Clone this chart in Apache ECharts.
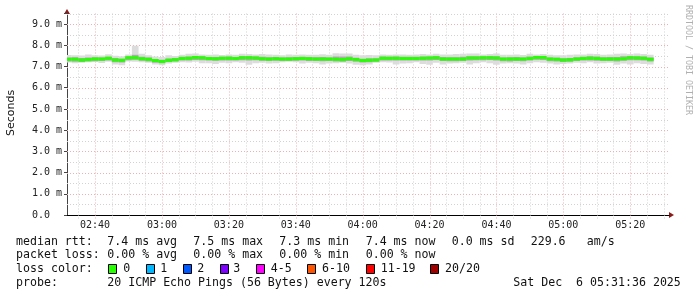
<!DOCTYPE html>
<html><head><meta charset="utf-8">
<script src="https://cdn.jsdelivr.net/npm/echarts@6/dist/echarts.min.js"></script>
<style>html,body{margin:0;padding:0;background:#fff}#c{width:697px;height:297px}</style>
</head><body><div id="c"></div>
<script>
// ---- data (minutes after midnight, values in ms) ----
const stepMinutes = 2;
const firstStepStart = 151;
const axisStart = 151.6, axisEnd = 331.6;
const yMax = 9.5;

const median = [7.34,7.34,7.31,7.33,7.36,7.36,7.39,7.31,7.30,7.41,7.41,7.37,7.34,7.28,7.24,7.30,7.32,7.38,7.39,7.42,7.41,7.38,7.37,7.39,7.39,7.38,7.41,7.41,7.40,
7.37,7.36,7.37,7.36,7.35,7.37,7.38,7.37,7.36,7.36,7.35,7.34,7.33,7.37,7.33,7.29,7.30,7.31,7.39,7.39,7.39,7.38,7.38,7.38,7.39,7.40,7.41,7.36,7.36,7.35,7.36,7.40,
7.40,7.41,7.41,7.40,7.35,7.35,7.36,7.36,7.38,7.42,7.42,7.35,7.34,7.31,7.32,7.36,7.38,7.39,7.38,7.36,7.36,7.35,7.37,7.41,7.40,7.39,7.34];

const smokeHi = [7.54,7.53,7.52,7.57,7.53,7.52,7.58,7.51,7.49,7.57,7.98,7.60,7.53,7.47,7.45,7.53,7.50,7.55,7.60,7.62,7.57,7.55,7.57,7.54,7.57,7.56,7.60,7.59,7.57,
7.59,7.57,7.55,7.53,7.57,7.55,7.57,7.55,7.56,7.58,7.56,7.63,7.62,7.61,7.55,7.53,7.54,7.53,7.57,7.55,7.57,7.57,7.56,7.57,7.59,7.57,7.60,7.57,7.57,7.59,7.60,7.62,
7.61,7.57,7.59,7.62,7.55,7.56,7.57,7.54,7.60,7.57,7.59,7.56,7.53,7.53,7.55,7.57,7.57,7.60,7.59,7.55,7.57,7.60,7.62,7.59,7.61,7.59,7.55];

const smokeLo = [7.19,7.16,7.18,7.20,7.21,7.17,7.22,7.10,7.06,7.24,7.22,7.20,7.18,7.10,7.06,7.14,7.18,7.20,7.19,7.22,7.16,7.16,7.12,7.18,7.16,7.20,7.18,7.08,7.16,
7.18,7.14,7.16,7.20,7.22,7.20,7.14,7.18,7.16,7.10,7.14,7.16,7.18,7.14,7.08,7.06,7.10,7.18,7.20,7.19,7.10,7.14,7.16,7.20,7.12,7.08,7.18,7.10,7.14,7.16,7.18,7.10,
7.16,7.20,7.16,7.08,7.14,7.16,7.14,7.10,7.16,7.20,7.18,7.14,7.10,7.12,7.14,7.18,7.16,7.20,7.14,7.16,7.18,7.08,7.14,7.10,7.16,7.12,7.10];

const innerLo = [7.24,7.22,7.21,7.24,7.25,7.26,7.28,7.20,7.19,7.30,7.32,7.27,7.24,7.18,7.15,7.21,7.24,7.28,7.28,7.31,7.30,7.28,7.27,7.28,7.29,7.28,7.30,7.29,7.30,
7.27,7.26,7.27,7.26,7.26,7.27,7.28,7.26,7.26,7.25,7.26,7.24,7.23,7.26,7.22,7.19,7.20,7.22,7.29,7.28,7.28,7.28,7.28,7.28,7.29,7.29,7.31,7.26,7.25,7.25,7.26,7.29,
7.30,7.30,7.31,7.29,7.25,7.24,7.26,7.25,7.28,7.32,7.31,7.25,7.24,7.21,7.22,7.26,7.28,7.29,7.27,7.26,7.26,7.24,7.27,7.30,7.30,7.29,7.24];

const innerHi = [7.42,7.44,7.40,7.42,7.44,7.43,7.46,7.40,7.37,7.47,7.56,7.46,7.42,7.36,7.32,7.38,7.40,7.46,7.47,7.50,7.47,7.45,7.45,7.46,7.47,7.45,7.48,7.48,7.47,
7.46,7.44,7.45,7.43,7.44,7.45,7.46,7.45,7.44,7.45,7.43,7.47,7.47,7.47,7.41,7.37,7.39,7.39,7.47,7.46,7.47,7.46,7.46,7.46,7.47,7.47,7.49,7.45,7.44,7.44,7.46,7.49,
7.48,7.47,7.48,7.48,7.43,7.44,7.45,7.43,7.47,7.48,7.49,7.43,7.41,7.39,7.40,7.44,7.46,7.48,7.47,7.44,7.45,7.45,7.48,7.49,7.49,7.47,7.42];

const yTicks = [0,1,2,3,4,5,6,7,8,9];
const yTickLabels = ['0.0  ','1.0 m','2.0 m','3.0 m','4.0 m','5.0 m','6.0 m','7.0 m','8.0 m','9.0 m'];
const yMinor = [0.5,1.5,2.5,3.5,4.5,5.5,6.5,7.5,8.5,9.5];
const xMajor = [160,180,200,220,240,260,280,300,320];
const xTickLabels = ['02:40','03:00','03:20','03:40','04:00','04:20','04:40','05:00','05:20'];
const xMinor = [155,165,170,175,185,190,195,205,210,215,225,230,235,245,250,255,265,270,275,285,290,295,305,310,315,325,330];

const lossLabels = ['0','1','2','3','4-5','6-10','11-19','20/20'];
const lossColors = ['#26ff00','#00b8ff','#0059ff','#7e00ff','#ff00ff','#ff5500','#ff0000','#a10000'];

// ---- build ----
const MONO = '"DejaVu Sans Mono", monospace';
const RED = '#eeb0b0';
const GRAY = '#d2d2d2';

const stepData = median.map((m, i) => [firstStepStart + i * stepMinutes, smokeLo[i], smokeHi[i], innerLo[i], innerHi[i], m]);

function bandSeries(loDim, hiDim, color) {
  return {
    type: 'custom', clip: true, silent: true,
    data: stepData,
    encode: { x: 0, y: [loDim, hiDim] },
    renderItem: function (params, api) {
      const t = api.value(0);
      const a = api.coord([t, api.value(loDim)]);
      const b = api.coord([t + stepMinutes, api.value(hiDim)]);
      return { type: 'rect', shape: { x: a[0], y: b[1], width: b[0] - a[0], height: a[1] - b[1] }, style: { fill: color } };
    }
  };
}

const vGrid = xMinor.map(v => [v, 0, 0]).concat(xMajor.map(v => [v, 0, 1]));
const hGrid = yMinor.map(v => [axisStart, v, 0]).concat(yTicks.filter(v => v > 0).map(v => [axisStart, v, 1]));

const option = {
  animation: false,
  backgroundColor: '#fff',
  grid: { left: 67, right: 28, top: 13.5, bottom: 82 },
  xAxis: {
    type: 'value', min: axisStart, max: axisEnd,
    axisLine: { show: true, lineStyle: { color: '#000', width: 1 } },
    axisTick: { show: false }, axisLabel: { show: false }, splitLine: { show: false }
  },
  yAxis: {
    type: 'value', min: 0, max: yMax, interval: 1,
    axisLine: { show: true, lineStyle: { color: '#444', width: 1 } },
    axisTick: { show: true, length: 3, lineStyle: { color: '#444' } },
    axisLabel: {
      margin: 5, fontFamily: MONO, fontSize: 10, color: '#222',
      formatter: function (v) { const i = yTicks.indexOf(Math.round(v * 1000) / 1000); return i >= 0 ? yTickLabels[i] : ''; }
    },
    splitLine: { show: false }
  },
  series: [
    {
      type: 'custom', clip: false, silent: true, z: 1,
      data: vGrid, encode: { x: 0, y: 1 },
      renderItem: function (params, api) {
        const v = api.value(0);
        const p0 = api.coord([v, 0]);
        const p1 = api.coord([v, yMax]);
        const x = Math.round(p0[0]) + 0.5;
        return { type: 'line', shape: { x1: x, y1: p1[1], x2: x, y2: p0[1] + 4 },
          style: { stroke: api.value(2) ? RED : GRAY, lineWidth: 1, lineDash: [1, 2] } };
      }
    },
    {
      type: 'custom', clip: false, silent: true, z: 1,
      data: hGrid, encode: { x: 0, y: 1 },
      renderItem: function (params, api) {
        const v = api.value(1);
        const p0 = api.coord([axisStart, v]);
        const p1 = api.coord([axisEnd, v]);
        const y = Math.round(p0[1]) + 0.5;
        return { type: 'line', shape: { x1: p0[0], y1: y, x2: p1[0], y2: y },
          style: { stroke: api.value(2) ? RED : GRAY, lineWidth: 1, lineDash: [1, 2] } };
      }
    },
    {
      type: 'custom', clip: false, silent: true,
      data: xMajor.map(v => [v, 0]), encode: { x: 0, y: 1 },
      renderItem: function (params, api) {
        const p = api.coord([api.value(0), 0]);
        return { type: 'text', x: p[0], y: p[1] + 10,
          style: { text: xTickLabels[params.dataIndex], font: '10px ' + MONO, fill: '#222', align: 'center', verticalAlign: 'middle' } };
      }
    },
    Object.assign(bandSeries(1, 2, '#dcdcdc'), { z: 2 }),
    Object.assign(bandSeries(3, 4, '#ababab'), { z: 3 }),
    {
      type: 'custom', clip: true, silent: true, z: 4,
      data: stepData, encode: { x: 0, y: 5 },
      renderItem: function (params, api) {
        const t = api.value(0);
        const a = api.coord([t, api.value(5)]);
        const b = api.coord([t + stepMinutes, api.value(5)]);
        return { type: 'rect', shape: { x: a[0], y: a[1] - 1.5, width: b[0] - a[0], height: 3 }, style: { fill: lossColors[0] } };
      }
    }
  ],
  graphic: buildGraphics()
};

function txt(x, y, s, extra) {
  return Object.assign({ type: 'text', x: x, y: y, silent: true,
    style: { text: s, font: '11.6px ' + MONO, fill: '#111', verticalAlign: 'middle', align: 'left' } }, extra || {});
}

function buildGraphics() {
  const g = [];
  g.push({ type: 'polygon', silent: true, shape: { points: [[669, 212], [674, 215], [669, 218]] }, style: { fill: '#8b1a1a' } });
  g.push({ type: 'polygon', silent: true, shape: { points: [[64, 14], [67, 9], [70, 14]] }, style: { fill: '#8b1a1a' } });
  g.push({ type: 'text', x: 11, y: 113, rotation: Math.PI / 2, silent: true,
    style: { text: 'Seconds', font: '11px "DejaVu Sans", sans-serif', fill: '#111', align: 'center', verticalAlign: 'middle' } });
  g.push({ type: 'text', x: 688, y: 5, rotation: -Math.PI / 2, silent: true,
    style: { text: 'RRDTOOL / TOBI OETIKER', font: '8.3px ' + MONO, fill: '#b0b0b0', align: 'left', verticalAlign: 'middle' } });
  const r1 = 241.5, r2 = 255, r3 = 269, r4 = 283;
  g.push(txt(16, r1, 'median rtt:'));
  g.push(txt(107.3, r1, '7.4 ms avg'));
  g.push(txt(193.3, r1, '7.5 ms max'));
  g.push(txt(279.3, r1, '7.3 ms min'));
  g.push(txt(365.7, r1, '7.4 ms now'));
  g.push(txt(451.7, r1, '0.0 ms sd'));
  g.push(txt(530.7, r1, '229.6'));
  g.push(txt(586.7, r1, 'am/s'));
  g.push(txt(16, r2, 'packet loss:'));
  g.push(txt(107.3, r2, '0.00 % avg'));
  g.push(txt(193.3, r2, '0.00 % max'));
  g.push(txt(279.3, r2, '0.00 % min'));
  g.push(txt(365.7, r2, '0.00 % now'));
  g.push(txt(16, r3, 'loss color:'));
  const boxX = [108.3, 145.7, 182.7, 219.7, 256, 307.3, 366, 430];
  const labX = [123.3, 160.3, 197.3, 233.3, 270.7, 322, 380.7, 445];
  for (let i = 0; i < lossLabels.length; i++) {
    g.push({ type: 'rect', silent: true, shape: { x: Math.round(boxX[i]) + 0.5, y: 264.5, width: 8, height: 9 },
      style: { fill: lossColors[i], stroke: '#000', lineWidth: 1 } });
    g.push(txt(labX[i], r3, lossLabels[i]));
  }
  g.push(txt(16, r4, 'probe:'));
  g.push(txt(107.3, r4, '20 ICMP Echo Pings (56 Bytes) every 120s'));
  g.push(txt(513.3, r4, 'Sat Dec  6 05:31:36 2025'));
  return g;
}

const chart = echarts.init(document.getElementById('c'), null, { renderer: 'canvas' });
chart.setOption(option);
</script>
</body></html>
